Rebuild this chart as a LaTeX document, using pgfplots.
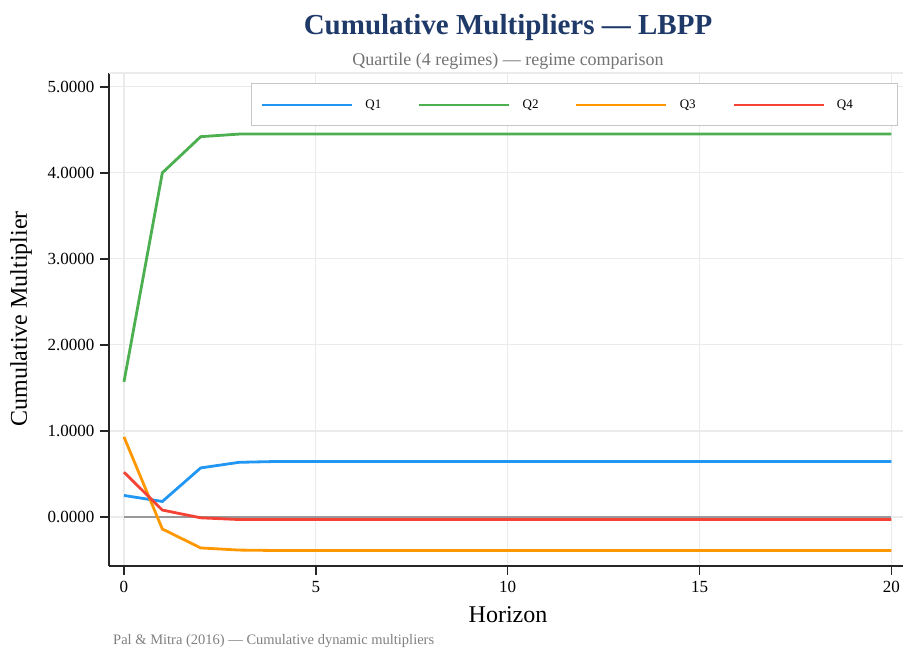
\documentclass[border=0pt]{standalone}
\usepackage{fontspec}
\setmainfont{Liberation Serif}
\usepackage{pgfplots}
\pgfplotsset{compat=1.18}
\definecolor{cQone}{HTML}{2196F3}
\definecolor{cQtwo}{HTML}{4CAF50}
\definecolor{cQthree}{HTML}{FF9800}
\definecolor{cQfour}{HTML}{F44336}
\definecolor{titlenavy}{HTML}{1F3A68}
\definecolor{gridgray}{HTML}{EBEBEB}
\begin{document}
\begin{tikzpicture}[x=1pt,y=1pt]
\path[use as bounding box] (0,0) rectangle (903,648);
\begin{axis}[
  at={(109pt,82pt)}, anchor=south west,
  scale only axis, width=794pt, height=493pt,
  xmin=-0.39, xmax=20.3, ymin=-0.57, ymax=5.16,
  axis x line*=bottom, axis y line*=left,
  axis line style={line width=1.5pt, color=black!85, -},
  xtick={0,5,10,15,20},
  ytick={0,1,2,3,4,5},
  tick align=outside, tick pos=left,
  major tick length=9pt,
  every tick/.style={line width=1.5pt, black!85},
  grid=major,
  major grid style={line width=1.2pt, gridgray},
  /pgf/number format/assume math mode=true,
  yticklabel style={/pgf/number format/fixed, /pgf/number format/fixed zerofill, /pgf/number format/precision=4, xshift=-2pt},
  ticklabel style={font=\fontsize{17}{20}\selectfont},
  xticklabel style={yshift=-3pt},
  legend columns=4,
  legend style={at={(0.179,0.979)}, anchor=north west,
    draw=black!22, line width=1pt, fill=white,
    font=\fontsize{13}{15}\selectfont,
    inner xsep=9pt, inner ysep=14pt},
  legend image code/.code={\draw[#1, line width=2.8pt] (0pt,0pt) -- (90pt,0pt);},
  legend cell align=left,
  /tikz/every odd column/.append style={column sep=10pt},
  /tikz/every even column/.append style={column sep=34.5pt},
]
\addplot[gray!80, line width=1.5pt, forget plot] coordinates {(0,0) (20,0)};
\addplot[cQone, line width=2.8pt] coordinates {
(0,0.25) (1,0.18) (2,0.57) (3,0.635) (4,0.645) (5,0.645) (6,0.645) (7,0.645) (8,0.645) (9,0.645) (10,0.645) (11,0.645) (12,0.645) (13,0.645) (14,0.645) (15,0.645) (16,0.645) (17,0.645) (18,0.645) (19,0.645) (20,0.645)};
\addplot[cQtwo, line width=2.8pt] coordinates {
(0,1.57) (1,4.00) (2,4.42) (3,4.45) (4,4.45) (5,4.45) (6,4.45) (7,4.45) (8,4.45) (9,4.45) (10,4.45) (11,4.45) (12,4.45) (13,4.45) (14,4.45) (15,4.45) (16,4.45) (17,4.45) (18,4.45) (19,4.45) (20,4.45)};
\addplot[cQthree, line width=2.8pt] coordinates {
(0,0.93) (1,-0.14) (2,-0.36) (3,-0.385) (4,-0.39) (5,-0.39) (6,-0.39) (7,-0.39) (8,-0.39) (9,-0.39) (10,-0.39) (11,-0.39) (12,-0.39) (13,-0.39) (14,-0.39) (15,-0.39) (16,-0.39) (17,-0.39) (18,-0.39) (19,-0.39) (20,-0.39)};
\addplot[cQfour, line width=2.8pt] coordinates {
(0,0.52) (1,0.08) (2,-0.01) (3,-0.03) (4,-0.03) (5,-0.03) (6,-0.03) (7,-0.03) (8,-0.03) (9,-0.03) (10,-0.03) (11,-0.03) (12,-0.03) (13,-0.03) (14,-0.03) (15,-0.03) (16,-0.03) (17,-0.03) (18,-0.03) (19,-0.03) (20,-0.03)};
\legend{Q1,Q2,Q3,Q4\kern34pt}
\draw[gridgray, line width=1.2pt] (rel axis cs:0,1) -- (rel axis cs:1,1);
\end{axis}
\node[font=\fontsize{29}{32}\selectfont\bfseries, text=titlenavy] at (508,620) {Cumulative Multipliers — LBPP};
\node[font=\fontsize{18}{21}\selectfont, text=black!55] at (508,587) {Quartile (4 regimes) — regime comparison};
\node[font=\fontsize{24}{28}\selectfont] at (508,33) {Horizon};
\node[font=\fontsize{24}{28}\selectfont, rotate=90] at (21,329) {Cumulative Multiplier};
\node[font=\fontsize{14.5}{17}\selectfont, text=black!50, anchor=west, inner sep=0pt] at (113,7) {Pal \& Mitra (2016) — Cumulative dynamic multipliers};
\end{tikzpicture}
\end{document}
